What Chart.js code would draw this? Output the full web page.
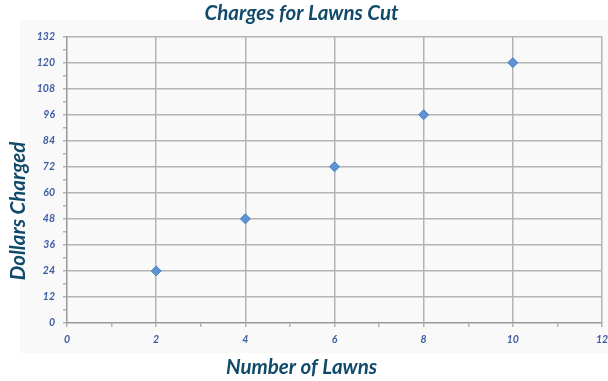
<!DOCTYPE html>
<html><head><meta charset="utf-8">
<script src="https://cdn.jsdelivr.net/npm/chart.js@4/dist/chart.umd.min.js"></script>
<style>html,body{margin:0;padding:0;background:#fff}#wrap{width:608px;height:381px}</style>
</head><body><div id="wrap"><canvas id="c" width="608" height="381"></canvas></div>
<script>
const lawns = [2, 4, 6, 8, 10];
const dollars = [24, 48, 72, 96, 120];
const xTicks = [0, 2, 4, 6, 8, 10, 12];
const yTicks = [0, 12, 24, 36, 48, 60, 72, 84, 96, 108, 120, 132];
const titleText = 'Charges for Lawns Cut';
const xTitle = 'Number of Lawns';
const yTitle = 'Dollars Charged';

const tickFont = {family: 'Lato, sans-serif', size: 10.5, weight: 'bold', style: 'italic'};
const titleFont = {family: 'Lato, sans-serif', size: 20.5, weight: 'bold', style: 'italic'};
const tickColor = '#3d5ca3';
const titleColor = '#104a6b';
const gridColor = '#b4b4b4';

const bgPlugin = {
  id: 'bg',
  beforeDraw(chart) {
    const {ctx} = chart;
    ctx.save();
    ctx.fillStyle = '#ffffff';
    ctx.fillRect(0, 0, chart.width, chart.height);
    ctx.fillStyle = '#f9f9f9';
    ctx.fillRect(20, 20, 588, 333);
    ctx.restore();
  }
};

// vertical y-axis title, placed where the reference has it
const yTitlePlugin = {
  id: 'yTitle',
  afterDraw(chart) {
    const {ctx} = chart;
    ctx.save();
    ctx.translate(18, 211);
    ctx.rotate(-Math.PI / 2);
    ctx.font = `${titleFont.style} ${titleFont.weight} ${titleFont.size}px ${titleFont.family}`;
    ctx.fillStyle = titleColor;
    ctx.textAlign = 'center';
    ctx.textBaseline = 'middle';
    ctx.fillText(yTitle, 0, 0);
    ctx.restore();
  }
};

new Chart(document.getElementById('c'), {
  type: 'scatter',
  data: {
    datasets: [{
      data: lawns.map((x, i) => ({x, y: dollars[i]})),
      pointStyle: 'rectRot',
      pointRadius: 5,
      pointHoverRadius: 5,
      backgroundColor: '#5b93d3',
      borderColor: '#4a7fbf',
      borderWidth: 1
    }]
  },
  plugins: [bgPlugin, yTitlePlugin],
  options: {
    responsive: false,
    animation: false,
    layout: {padding: {left: 0, right: 5, top: 0, bottom: 0}},
    plugins: {
      legend: {display: false},
      tooltip: {enabled: false},
      title: {display: true, text: titleText, color: titleColor, font: titleFont, padding: {top: 1, bottom: 11}},
      subtitle: {display: true, position: 'bottom', text: xTitle, color: titleColor, font: titleFont, padding: {top: 0, bottom: 1}}
    },
    scales: {
      x: {
        type: 'linear',
        min: xTicks[0], max: xTicks[xTicks.length - 1],
        ticks: {
          stepSize: 1, autoSkip: false, maxRotation: 0,
          color: tickColor, font: tickFont, padding: 6,
          callback: v => xTicks.includes(v) ? String(v) : ''
        },
        grid: {
          color: ctx => (ctx.tick && xTicks.includes(ctx.tick.value) && ctx.tick.value !== 0) ? gridColor : 'rgba(0,0,0,0)',
          tickColor: gridColor,
          lineWidth: 1.5,
          tickLength: 4
        },
        border: {color: '#999', width: 1.5},
        afterFit: s => { s.height = 32.4; s.paddingRight = 0; s.paddingLeft = 0; }
      },
      y: {
        type: 'linear',
        min: yTicks[0], max: yTicks[yTicks.length - 1],
        ticks: {
          stepSize: 6, autoSkip: false,
          color: tickColor, font: tickFont, padding: 8,
          callback: v => yTicks.includes(v) ? String(v) : ''
        },
        grid: {
          color: ctx => (ctx.tick && yTicks.includes(ctx.tick.value) && ctx.tick.value !== 0) ? gridColor : 'rgba(0,0,0,0)',
          tickColor: gridColor,
          lineWidth: 1.5,
          tickLength: 4
        },
        border: {color: '#999', width: 1.5},
        afterFit: s => { s.width = 67; s.paddingTop = 0; s.paddingBottom = 0; }
      }
    }
  }
});
</script></body></html>
